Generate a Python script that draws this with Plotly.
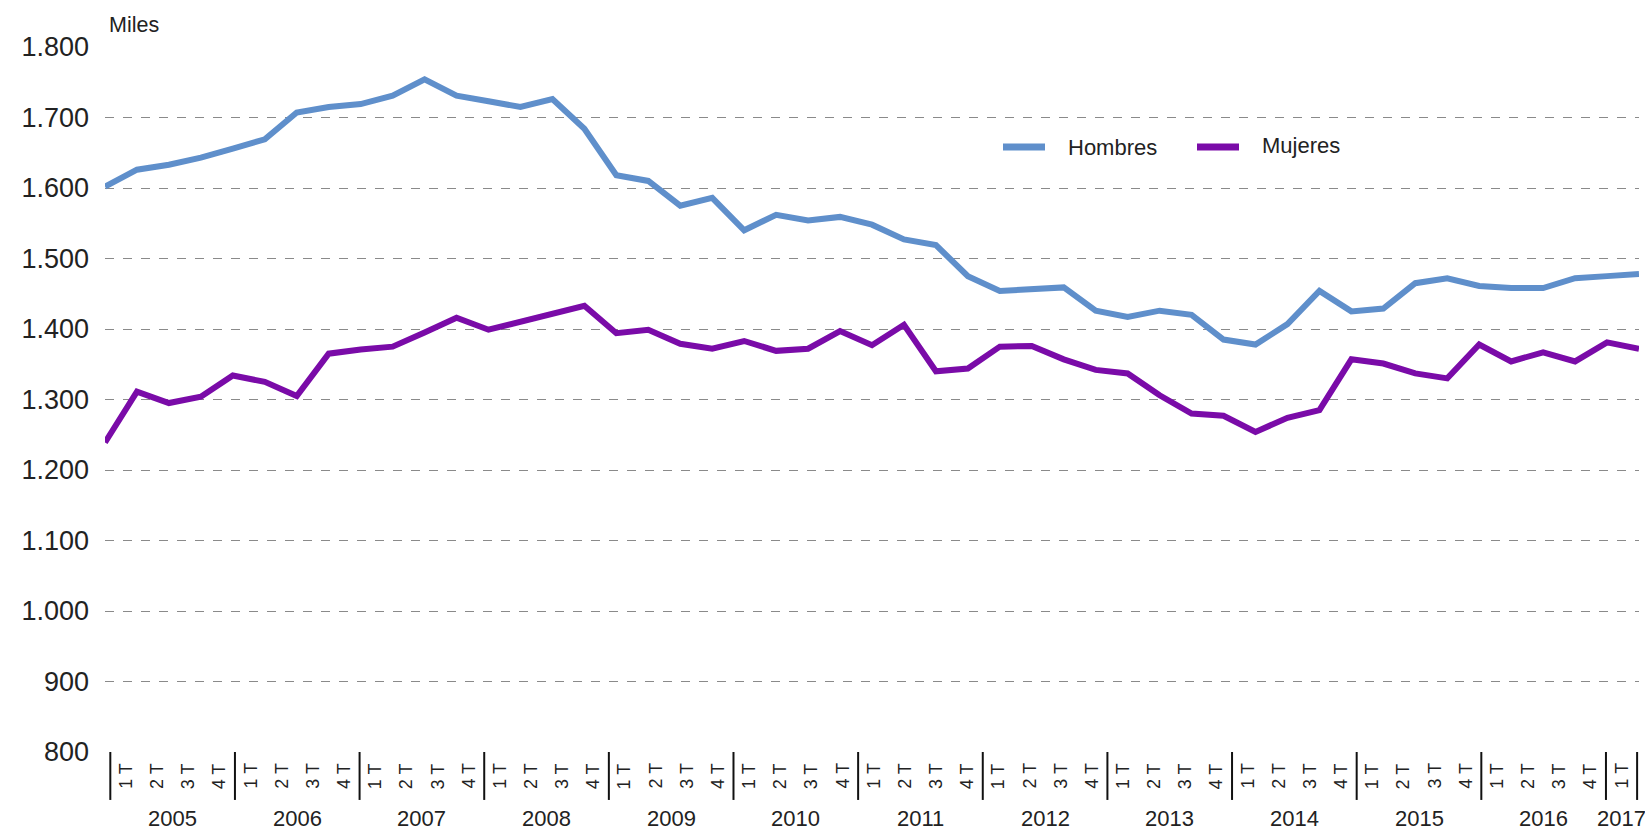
import plotly.graph_objects as go

years = [str(y) for y in range(2005, 2018)]
quarter_labels = ["1 T", "2 T", "3 T", "4 T"]
periods = [f"{y} {q}" for y in years for q in quarter_labels][:49]

hombres = [1602, 1626, 1633, 1643, 1656, 1669, 1707, 1715, 1719, 1731, 1754, 1731, 1723,
           1715, 1726, 1684, 1618, 1610, 1575, 1586, 1540, 1562, 1554, 1559, 1548, 1527,
           1519, 1475, 1454, 1456, 1459, 1426, 1417, 1426, 1420, 1385, 1378, 1407, 1454,
           1425, 1429, 1465, 1472, 1461, 1458, 1458, 1472, 1475, 1478]
mujeres = [1239, 1311, 1295, 1304, 1334, 1325, 1305, 1365, 1371, 1375, 1395, 1416, 1399,
           1411, 1422, 1433, 1394, 1399, 1379, 1372, 1383, 1369, 1372, 1397, 1377, 1406,
           1340, 1344, 1375, 1376, 1357, 1342, 1337, 1306, 1280, 1277, 1254, 1274, 1285,
           1357, 1351, 1337, 1330, 1378, 1354, 1367, 1354, 1381, 1372]

y_ticks = [800, 900, 1000, 1100, 1200, 1300, 1400, 1500, 1600, 1700, 1800]

BLUE = "#5F8FCB"
PURPLE = "#7A0BA8"
TXT = "#222222"
FONT = "Liberation Sans, Arial, sans-serif"

series = [("Hombres", hombres, BLUE), ("Mujeres", mujeres, PURPLE)]

fig = go.Figure()
for name, vals, col in series:
    fig.add_trace(go.Scatter(x=periods, y=vals, mode="lines", name=name,
                             line=dict(color=col, width=6), showlegend=False))

# plot area geometry (px) used for paper-coordinate conversion
W, H = 1645, 832
ML, MR, MT, MB = 105, 6, 47, 80
PW, PH = W - ML - MR, H - MT - MB


def px(xp):
    return (xp - ML) / PW


def py(yp):
    return (H - MB - yp) / PH


# category label band (positions in axis index units)
X0 = 0.166
QW = 0.975
n = len(periods)
annotations = []
shapes = []
for i, p in enumerate(periods):
    q = p.split(" ", 1)[1]
    annotations.append(dict(x=X0 + QW * (i + 0.5), y=-0.034, xref="x", yref="paper",
                            text=q, textangle=-90, showarrow=False,
                            xanchor="center", yanchor="middle",
                            font=dict(size=18, color=TXT, family=FONT)))
for k, yr in enumerate(years):
    nq = min(4, n - 4 * k)
    center = X0 + QW * (4 * k + nq / 2)
    annotations.append(dict(x=center, y=-0.094, xref="x", yref="paper", text=yr,
                            showarrow=False, xanchor="center", yanchor="middle",
                            font=dict(size=22, color=TXT, family=FONT)))
div_pos = [X0 + QW * 4 * k for k in range(len(years))] + [X0 + QW * n]
for xp in div_pos:
    shapes.append(dict(type="line", xref="x", yref="paper", x0=xp, x1=xp, y0=0, y1=-0.068,
                       line=dict(color="#111111", width=2)))

# legend (drawn manually to match spacing)
legend_items = [(series[0][0], series[0][2], 1003, 1045, 1066, 147),
                (series[1][0], series[1][2], 1197, 1239, 1260, 145)]
for name, col, lx0, lx1, tx, ly in legend_items:
    shapes.append(dict(type="line", xref="paper", yref="paper", x0=px(lx0), x1=px(lx1),
                       y0=py(147), y1=py(147), line=dict(color=col, width=7)))
    annotations.append(dict(x=px(tx), y=py(ly), xref="paper", yref="paper", text=name,
                            showarrow=False, xanchor="left", yanchor="middle",
                            font=dict(size=22, color=TXT, family=FONT)))

annotations.append(dict(x=px(107), y=py(25), xref="paper", yref="paper", text="Miles",
                        showarrow=False, xanchor="left", yanchor="middle",
                        font=dict(size=21.5, color=TXT, family=FONT)))

fig.update_layout(
    width=W, height=H,
    margin=dict(l=ML, r=MR, t=MT, b=MB),
    plot_bgcolor="white", paper_bgcolor="white",
    separators=",.",
    font=dict(family=FONT, color=TXT),
    showlegend=False,
    annotations=annotations,
    shapes=shapes,
    xaxis=dict(range=[0, n - 1], showticklabels=False, showgrid=False, zeroline=False,
               showline=False, ticks=""),
    yaxis=dict(range=[800, 1800], tickvals=y_ticks, tickformat=",d",
               showgrid=True, gridcolor="#8a8a8a", griddash="dash", gridwidth=1,
               zeroline=False, showline=False, ticks="", ticklabelstandoff=15,
               tickfont=dict(size=27, color=TXT, family=FONT)),
)

fig.write_html("out.html", config={"displayModeBar": False},
               post_script="document.body.style.margin='0';")
